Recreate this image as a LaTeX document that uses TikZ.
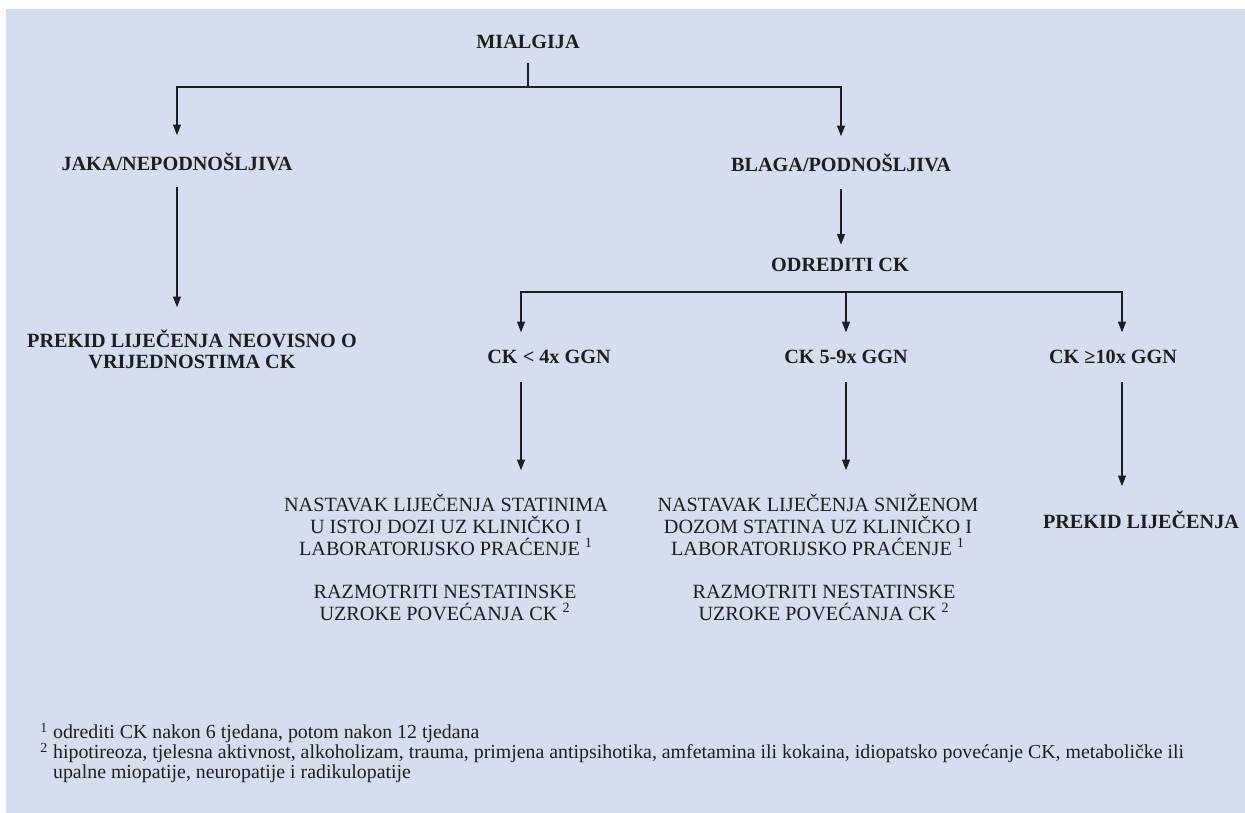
\documentclass[tikz,border=0pt]{standalone}
\usepackage{fontspec}
\setmainfont{Liberation Serif}
\usetikzlibrary{arrows.meta}
\definecolor{bgblue}{RGB}{213,222,238}
\definecolor{ink}{RGB}{30,30,30}
\tikzset{
  head/.style={font=\fontsize{11.5}{12}\selectfont\bfseries, align=center, inner sep=0pt, text=ink},
  body/.style={font=\fontsize{11.5}{12.5}\selectfont, align=center, inner sep=0pt, text=ink},
  note/.style={font=\fontsize{11.3}{12}\selectfont, inner sep=0pt, text=ink},
  line/.style={draw=ink, line width=0.65pt},
  arr/.style={line, -{Triangle[width=4.5pt,length=6pt]}},
}
\begin{document}
\begin{tikzpicture}[x=0.02cm, y=-0.02cm]
    \useasboundingbox (0,0) rectangle (1245,813);
    \fill[white] (0,0) rectangle (1245,813);
    \fill[bgblue] (6,9) rectangle (1245,813);

    \node[head] (mialgija) at (528,42) {MIALGIJA};
    \node[head] (jaka) at (177,162) {JAKA/NEPODNOŠLJIVA};
    \node[head] (blaga) at (841,163) {BLAGA/PODNOŠLJIVA};
    \node[head] (prekidA) at (192,349) {PREKID LIJEČENJA NEOVISNO O\\VRIJEDNOSTIMA CK};
    \node[head] (odrediti) at (840,265) {ODREDITI CK};
    \node[head] (ckLow) at (549,357) {CK < 4x GGN};
    \node[head] (ckMid) at (846,357) {CK 5-9x GGN};
    \node[head] (ckHigh) at (1113,357) {CK ≥10x GGN};
    \node[head] (prekidB) at (1141,520) {PREKID LIJEČENJA};
    \node[body] (nastavakA) at (446,525) {NASTAVAK LIJEČENJA STATINIMA\\U ISTOJ DOZI UZ KLINIČKO I\\LABORATORIJSKO PRAĆENJE \textsuperscript{1}};
    \node[body] (razmotritiA) at (445,603) {RAZMOTRITI NESTATINSKE\\UZROKE POVEĆANJA CK \textsuperscript{2}};
    \node[body] (nastavakB) at (818,525) {NASTAVAK LIJEČENJA SNIŽENOM\\DOZOM STATINA UZ KLINIČKO I\\LABORATORIJSKO PRAĆENJE \textsuperscript{1}};
    \node[body] (razmotritiB) at (824,603) {RAZMOTRITI NESTATINSKE\\UZROKE POVEĆANJA CK \textsuperscript{2}};

    % footnotes
    \node[note, anchor=base west] (fn1) at (40,739) {\textsuperscript{1} odrediti CK nakon 6 tjedana, potom nakon 12 tjedana};
    \node[note, anchor=base west] (fn2) at (40,759) {\textsuperscript{2} hipotireoza, tjelesna aktivnost, alkoholizam, trauma, primjena antipsihotika, amfetamina ili kokaina, idiopatsko povećanje CK, metaboličke ili};
    \node[note, anchor=base west] (fn3) at (40,779) {\hphantom{\textsuperscript{2} }upalne miopatije, neuropatije i radikulopatije};

    \coordinate (split1) at (528,87);
    \coordinate (split2) at (846,292);
    \draw[line, shorten <=8pt] (mialgija.south) -- (split1);
    \draw[arr, shorten >=10pt] (split1) -| (jaka.north);
    \draw[arr, shorten >=10pt] (split1) -| (blaga.north);
    \draw[arr, shorten <=9pt, shorten >=12.5pt] (jaka.south) -- (jaka.south |- prekidA.north);
    \draw[arr, shorten <=9.5pt, shorten >=7.5pt] (blaga.south) -- (blaga.south |- odrediti.north);

    \draw[arr, shorten >=10pt] (split2) -| ([xshift=-0.56cm]ckLow.north);
    \draw[arr, shorten >=10pt] (split2) -- (ckMid.north);
    \draw[arr, shorten >=10pt] (split2) -| ([xshift=0.18cm]ckHigh.north);
    \draw[arr, shorten <=10pt, shorten >=13.5pt] ([xshift=-0.56cm]ckLow.south) -- ([xshift=-0.56cm]ckLow.south |- nastavakA.north);
    \draw[arr, shorten <=10pt, shorten >=13.5pt] (ckMid.south) -- (ckMid.south |- nastavakB.north);
    \draw[arr, shorten <=10pt, shorten >=14pt] ([xshift=0.18cm]ckHigh.south) -- ([xshift=0.18cm]ckHigh.south |- prekidB.north);
\end{tikzpicture}
\end{document}
